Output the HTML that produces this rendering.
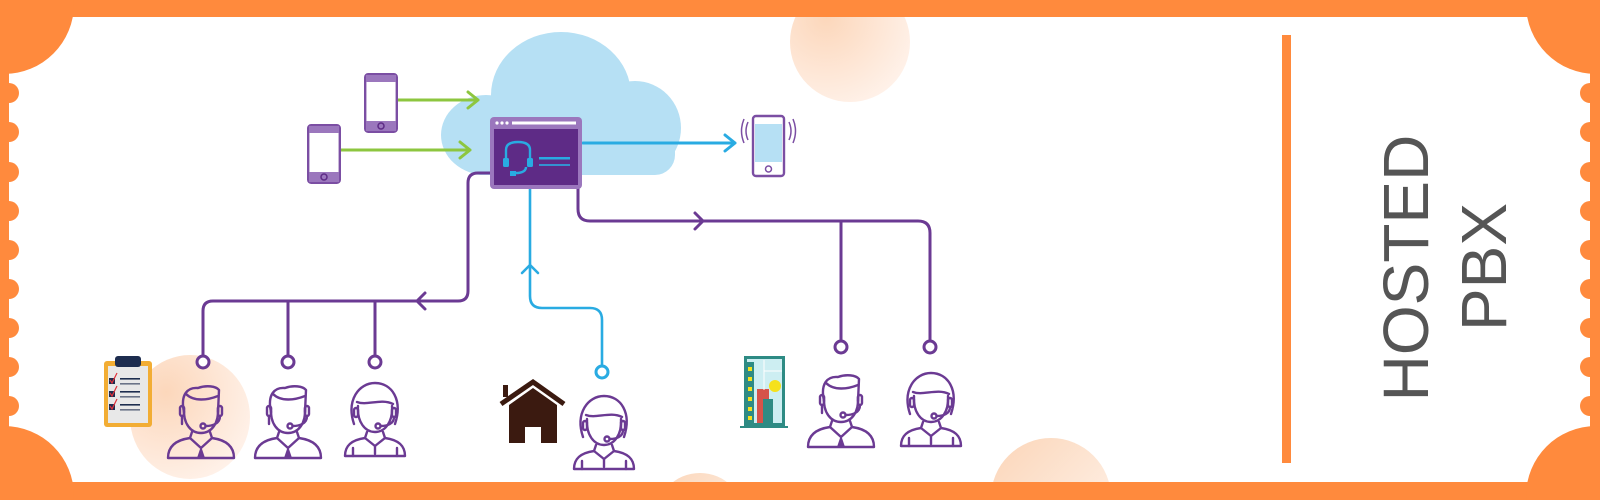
<!DOCTYPE html>
<html><head><meta charset="utf-8"><style>
html,body{margin:0;padding:0;width:1600px;height:500px;overflow:hidden;background:#fff}
svg{display:block}
</style></head><body>
<svg width="1600" height="500" viewBox="0 0 1600 500" xmlns="http://www.w3.org/2000/svg" style="overflow:hidden">
<defs>
<radialGradient id="pg" cx="0.3" cy="0.3" r="0.8">
<stop offset="0" stop-color="#fcd7bb"/><stop offset="1" stop-color="#fff2ea"/></radialGradient>
<linearGradient id="pg2" x1="0" y1="0" x2="1" y2="1">
<stop offset="0" stop-color="#fbd5b8"/><stop offset="1" stop-color="#fff5ee"/></linearGradient>
<symbol id="male" viewBox="0 0 74 78" overflow="visible">
<g fill="none" stroke="#6b3a93" stroke-width="2.4" stroke-linecap="round" stroke-linejoin="round">
<path d="M20,30 C16,12 24,5 34,6 C42,3 52,4 55,8 L54,30"/>
<path d="M22,12 C30,20 44,18 54,14"/>
<path d="M20,26 C19,42 27,51 37,51 C47,51 55,42 54,26"/>
<rect x="16" y="24" width="4" height="10" rx="2"/>
<rect x="54" y="24" width="4" height="10" rx="2"/>
<path d="M18,34 L18,42"/>
<path d="M56,34 C56,42 48,44 42,44"/><circle cx="39" cy="44" r="2.5"/>
<path d="M28,50 L26,56 L37,66 L48,56 L46,50"/>
<path d="M26,56 C12,58 4,64 4,76 L70,76 C70,64 62,58 48,56"/>
</g>
<path d="M37,64 L33,76 L41,76 Z" fill="#6b3a93"/>
</symbol>
<symbol id="female" viewBox="0 0 74 78" overflow="visible">
<g fill="none" stroke="#6b3a93" stroke-width="2.4" stroke-linecap="round" stroke-linejoin="round">
<path d="M17,44 C9,20 22,3 38,3 C55,3 66,20 58,44"/>
<path d="M20,22 C30,26 44,18 56,24"/>
<path d="M21,26 C20,42 28,52 38,52 C48,52 56,42 55,26"/>
<rect x="17" y="28" width="4" height="9" rx="2"/>
<rect x="55" y="28" width="4" height="9" rx="2"/>
<path d="M57,37 C57,44 50,46 44,46"/><circle cx="41" cy="46" r="2.5"/>
<path d="M30,52 L28,58 L38,66 L48,58 L46,52"/>
<path d="M28,58 C14,60 8,66 8,76 L68,76 C68,66 62,60 48,58"/>
<path d="M38,66 L38,74"/>
<path d="M16,68 L16,76 M60,68 L60,76"/>
</g>
</symbol>
<symbol id="phone" viewBox="0 0 34 60" overflow="visible">
<rect x="1.2" y="1.2" width="31.6" height="57.6" rx="3" fill="#fff" stroke="#7b4ea3" stroke-width="2.4"/>
<rect x="2" y="2" width="30" height="7" fill="#9b77bd"/>
<rect x="2" y="48" width="30" height="10" fill="#9b77bd"/>
<circle cx="17" cy="53" r="3" fill="#9b77bd" stroke="#5e2b86" stroke-width="1.5"/>
</symbol>
</defs>

<circle cx="850" cy="42" r="60" fill="url(#pg)"/>
<circle cx="1051" cy="498" r="60" fill="url(#pg2)"/>
<circle cx="700" cy="518" r="45" fill="url(#pg2)"/>
<ellipse cx="190" cy="417" rx="60" ry="62" fill="url(#pg)"/>

<g fill="#ff8a3d">
<rect x="0" y="0" width="1600" height="17"/>
<rect x="0" y="482" width="1600" height="18"/>
<rect x="0" y="0" width="9" height="500"/>
<rect x="1590" y="0" width="10" height="500"/>
<circle cx="4" cy="4" r="70"/>
<circle cx="4" cy="496" r="70"/>
<circle cx="1596" cy="4" r="70"/>
<circle cx="1596" cy="496" r="70"/>
<circle cx="9" cy="93" r="10"/><circle cx="9" cy="132" r="10"/><circle cx="9" cy="172" r="10"/>
<circle cx="9" cy="211" r="10"/><circle cx="9" cy="250" r="10"/><circle cx="9" cy="289" r="10"/>
<circle cx="9" cy="328" r="10"/><circle cx="9" cy="367" r="10"/><circle cx="9" cy="406" r="10"/>
<circle cx="1590" cy="93" r="10"/><circle cx="1590" cy="132" r="10"/><circle cx="1590" cy="172" r="10"/>
<circle cx="1590" cy="211" r="10"/><circle cx="1590" cy="250" r="10"/><circle cx="1590" cy="289" r="10"/>
<circle cx="1590" cy="328" r="10"/><circle cx="1590" cy="367" r="10"/><circle cx="1590" cy="406" r="10"/>
<rect x="1282" y="35" width="9" height="428"/>
</g>

<g fill="#b6e0f4">
<ellipse cx="561" cy="95" rx="70" ry="63"/>
<ellipse cx="486" cy="135" rx="45" ry="40"/>
<ellipse cx="635" cy="128" rx="46" ry="47"/>
<rect x="460" y="120" width="215" height="55" rx="20"/>
</g>

<g fill="none" stroke-linecap="round" stroke-linejoin="round">
<path d="M376,100 L478,100 M468,92 L478,100 L468,108" stroke="#8dc63f" stroke-width="3"/>
<path d="M318,150 L470,150 M460,142 L470,150 L460,158" stroke="#8dc63f" stroke-width="3"/>
<path d="M583,143 L735,143 M725,135 L735,143 L725,151" stroke="#29abe2" stroke-width="3"/>
<path d="M490,173 L478,173 Q468,173 468,183 L468,291 Q468,301 458,301 L213,301 Q203,301 203,311 L203,356" stroke="#6b3a93" stroke-width="3"/>
<path d="M425,293 L417,301 L425,309" stroke="#6b3a93" stroke-width="3"/>
<path d="M288,301 L288,356 M375,301 L375,356" stroke="#6b3a93" stroke-width="3"/>
<path d="M578,189 L578,209 Q578,221 590,221 L918,221 Q930,221 930,233 L930,341" stroke="#6b3a93" stroke-width="3"/>
<path d="M695,213 L703,221 L695,229" stroke="#6b3a93" stroke-width="3"/>
<path d="M841,221 L841,341" stroke="#6b3a93" stroke-width="3"/>
<path d="M530,189 L530,296 Q530,308 542,308 L590,308 Q602,308 602,320 L602,366" stroke="#29abe2" stroke-width="2.6"/>
<path d="M522,273 L530,265 L538,273" stroke="#29abe2" stroke-width="2.6"/>
<g stroke="#6b3a93" stroke-width="3" fill="#fff">
<circle cx="203" cy="362" r="6"/><circle cx="288" cy="362" r="6"/><circle cx="375" cy="362" r="6"/>
<circle cx="841" cy="347" r="6"/><circle cx="930" cy="347" r="6"/>
</g>
<circle cx="602" cy="372" r="6" stroke="#29abe2" stroke-width="3" fill="#fff"/>
</g>

<rect x="490" y="117" width="92" height="72" rx="4" fill="#9b77bd"/>
<rect x="494" y="129" width="84" height="56" fill="#5e2b86"/>
<g fill="#fff"><circle cx="497" cy="123" r="1.6"/><circle cx="502" cy="123" r="1.6"/><circle cx="507" cy="123" r="1.6"/><rect x="512" y="121.5" width="64" height="3"/></g>
<g fill="none" stroke="#29abe2" stroke-width="2.4">
<path d="M506,163 L506,150 Q506,142 518,142 Q530,142 530,150 L530,163"/>
<path d="M526,167 Q526,172 518,173 L513,173"/>
</g>
<g fill="#29abe2"><rect x="503" y="158" width="6" height="9" rx="1.5"/><rect x="527" y="158" width="6" height="9" rx="1.5"/><rect x="510" y="171" width="6" height="5"/>
<rect x="539" y="157" width="31" height="2.5"/><rect x="539" y="164" width="31" height="2" opacity="0.8"/></g>

<use href="#phone" x="364" y="73" width="34" height="60"/>
<use href="#phone" x="307" y="124" width="34" height="60"/>
<g>
<rect x="753" y="116" width="31" height="60" rx="3" fill="#fff" stroke="#7b4ea3" stroke-width="2.4"/>
<rect x="755" y="124" width="27" height="38" fill="#b6e0f4"/>
<circle cx="768.5" cy="169" r="3" fill="none" stroke="#7b4ea3" stroke-width="1.5"/>
<path d="M748,122 Q744,131 748,140 M744,119 Q739,131 744,143 M789,122 Q793,131 789,140 M793,119 Q798,131 793,143" fill="none" stroke="#7b4ea3" stroke-width="1.5"/>
</g>

<rect x="104" y="361" width="48" height="66" rx="3" fill="#f2ad34"/>
<rect x="108" y="366" width="40" height="57" fill="#e8e8e8"/>
<rect x="115" y="356" width="26" height="11" rx="3" fill="#1d2d4f"/>
<g fill="#1d2d4f"><rect x="109" y="378" width="6" height="6"/><rect x="109" y="391" width="6" height="6"/><rect x="109" y="404" width="6" height="6"/>
<rect x="120" y="378" width="20" height="1.6"/><rect x="120" y="383" width="20" height="1.6" fill="#6b7388"/>
<rect x="120" y="391" width="20" height="1.6"/><rect x="120" y="396" width="20" height="1.6" fill="#6b7388"/>
<rect x="120" y="404" width="20" height="1.6"/><rect x="120" y="409" width="20" height="1.6" fill="#6b7388"/></g>
<path d="M110,380 L112,383 L117,373 M110,393 L112,396 L117,386 M110,406 L112,409 L117,399" stroke="#e0313a" stroke-width="1.2" fill="none"/>

<path d="M501,404 L533,382 L564,404" stroke="#3b1a10" stroke-width="5" fill="none"/>
<rect x="503" y="385" width="5" height="12" fill="#3b1a10"/>
<path d="M509,405 L533,388 L557,405 L557,443 L541,443 L541,427 L525,427 L525,443 L509,443 Z" fill="#3b1a10"/>

<rect x="744" y="356" width="41" height="70" fill="#2e8b84"/>
<rect x="747" y="359" width="35" height="64" fill="#cdeef2"/>
<rect x="747" y="362" width="7" height="61" fill="#2e8b84"/>
<g fill="#f5e11c"><rect x="748" y="367" width="4" height="4"/><rect x="748" y="377" width="4" height="4"/><rect x="748" y="387" width="4" height="4"/><rect x="748" y="397" width="4" height="4"/><rect x="748" y="407" width="4" height="4"/><rect x="748" y="416" width="4" height="4"/>
<circle cx="775" cy="386" r="6"/></g>
<rect x="757" y="389" width="12" height="34" fill="#d6534a"/>
<rect x="763" y="399" width="10" height="24" fill="#2e8b84"/>
<path d="M764,371 L782,371 M764,360 L764,390" stroke="#fff" stroke-width="1"/>
<rect x="740" y="426" width="48" height="2" fill="#2e8b84"/>

<use href="#male" x="164" y="382" width="74" height="78"/>
<use href="#male" x="251" y="382" width="74" height="78"/>
<use href="#female" x="337" y="380" width="74" height="78"/>
<use href="#female" x="566" y="393" width="74" height="78"/>
<use href="#male" x="804" y="371" width="74" height="78"/>
<use href="#female" x="893" y="370" width="74" height="78"/>

<g font-family="'Liberation Sans', sans-serif" fill="#555" font-size="64">
<text transform="translate(1428,268) rotate(-90)" text-anchor="middle">HOSTED</text>
<text transform="translate(1506,267) rotate(-90)" text-anchor="middle">PBX</text>
</g>
</svg>
</body></html>
